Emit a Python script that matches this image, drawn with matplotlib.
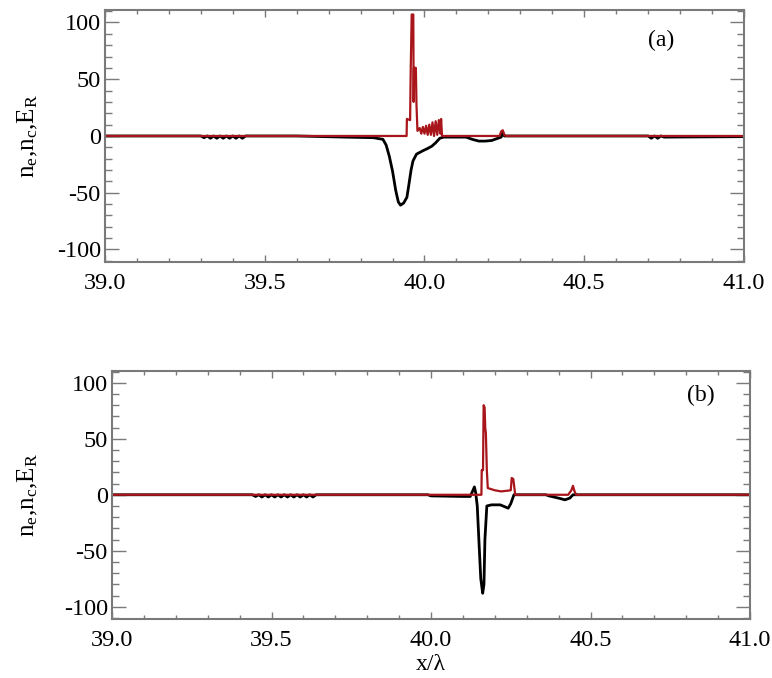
import numpy as np
import matplotlib.pyplot as plt
from matplotlib.ticker import MultipleLocator, FormatStrFormatter

plt.rcParams['font.family'] = ['Liberation Serif', 'DejaVu Serif']
plt.rcParams['mathtext.fontset'] = 'custom'
plt.rcParams['mathtext.rm'] = 'Liberation Serif'
plt.rcParams['mathtext.it'] = 'Liberation Serif:italic'
plt.rcParams['axes.unicode_minus'] = False

# panel (a): black curve (n_e) and red curve (E_R)
black_a_x = [39.0, 39.30, 39.31, 39.32, 39.33, 39.34, 39.35, 39.36, 39.37, 39.38, 39.39, 39.40,
             39.41, 39.42, 39.43, 39.44,
             39.60, 39.75, 39.84, 39.87, 39.88, 39.89, 39.90, 39.91, 39.918, 39.925, 39.935,
             39.945, 39.95, 39.958, 39.964, 39.975, 39.995, 40.01, 40.023, 40.035, 40.048,
             40.06, 40.13, 40.15, 40.17, 40.19, 40.21, 40.23, 40.24, 40.245, 40.25,
             40.70, 40.71, 40.72, 40.73, 40.74, 40.75, 41.0]
black_a_y = [0, 0, -1.5, 0, -2, 0, -2, 0, -2, 0, -2, 0,
             -2, 0, -2, 0,
             0, -1, -1.5, -3, -8, -18, -31, -48, -58, -61, -59,
             -54, -45, -30, -22, -16, -13, -11, -9, -6, -2,
             -1, -1, -3, -4.5, -4.5, -4, -2, -1, 3, 0,
             0, -2, 0, -2, 0, -1, -0.6]
red_a_x = [39.0, 39.944, 39.945, 39.955, 39.957, 39.960, 39.965, 39.966, 39.967, 39.973, 39.975,
           39.978, 39.985, 39.99, 39.995, 40.00, 40.005, 40.01, 40.015, 40.02, 40.025, 40.03,
           40.035, 40.04, 40.045, 40.05, 40.052, 40.055, 40.235, 40.24, 40.245, 40.25, 40.255, 41.0]
red_a_y = [0, 0, 15, 14, 60, 107, 107, 30, 60, 60, 27,
           4.5, 7, 2, 8, 2, 9, 1, 10, 1, 12, 0,
           13, 1, 14, 2, 15, 0, 0, 4, 5, 1, 0, 0]

# panel (b)
black_b_x = [39.0, 39.44, 39.45, 39.46, 39.47, 39.48, 39.49, 39.50, 39.51, 39.52, 39.53, 39.54,
             39.55, 39.56, 39.57, 39.58, 39.59, 39.60, 39.61, 39.62, 39.63, 39.64,
             39.99, 40.0, 40.10, 40.123, 40.13, 40.136, 40.14, 40.145, 40.15, 40.156, 40.162,
             40.166, 40.169, 40.175, 40.19, 40.217, 40.242, 40.25, 40.26,
             40.36, 40.37, 40.40, 40.42, 40.435, 40.445, 41.0]
black_b_y = [0, 0, -1.5, 0, -2, 0, -2, 0, -2, 0, -2, 0,
             -2, 0, -2, 0, -2, 0, -2, 0, -2, 0,
             0, -1, -1.5, -1.5, 3, 7, 2, -10, -40, -75, -88,
             -80, -40, -10, -9, -9, -12, -8, 0,
             0, -1, -3, -4.5, -3, 0, 0]
red_b_x = [39.0, 40.158, 40.159, 40.163, 40.165, 40.168, 40.170, 40.172, 40.175, 40.178,
           40.20, 40.22, 40.25, 40.253, 40.258, 40.264, 40.43, 40.44, 40.445, 40.45, 40.455, 41.0]
red_b_y = [0, 0, 22, 22, 80, 78, 60, 55, 22, 6,
           4, 3, 4, 15, 14, 0, 0, 4, 8, 3, 0, 0]

red = '#a8151a'
grey = '#7a7a7a'

fig = plt.figure(figsize=(7.72, 6.78), dpi=100)
ax1 = fig.add_axes([0.136, 0.6136, 0.8277, 0.3717])
ax2 = fig.add_axes([0.1451, 0.0870, 0.8264, 0.3665])

panels = [(ax1, black_a_x, black_a_y, red_a_x, red_a_y, '(a)', 0.87, 0.88, -0.102),
          (ax2, black_b_x, black_b_y, red_b_x, red_b_y, '(b)', 0.923, 0.90, -0.113)]

for ax, bx, by, rx, ry, tag, tx, ty, lx in panels:
    ax.plot(bx, by, color='black', lw=2.0)
    ax.plot(rx, ry, color=red, lw=1.6)
    ax.set_xlim(39.0, 41.0)
    ax.set_ylim(-111, 111)
    ax.xaxis.set_major_locator(MultipleLocator(0.5))
    ax.xaxis.set_minor_locator(MultipleLocator(0.1))
    ax.xaxis.set_major_formatter(FormatStrFormatter('%.1f'))
    ax.yaxis.set_major_locator(MultipleLocator(50))
    ax.yaxis.set_minor_locator(MultipleLocator(10))
    ax.yaxis.set_major_formatter(FormatStrFormatter('%d'))
    ax.tick_params(axis='both', which='both', direction='in', top=True, right=True,
                   color=grey, labelsize=17.5, width=1.0)
    ax.tick_params(axis='x', which='major', length=5, pad=8)
    ax.tick_params(axis='x', which='minor', length=3)
    ax.tick_params(axis='y', which='major', length=10, pad=3)
    ax.tick_params(axis='y', which='minor', length=5)
    for s in ax.spines.values():
        s.set_color(grey)
        s.set_linewidth(1.5)
    ax.set_ylabel(r'n$_\mathregular{e}$,n$_\mathregular{c}$,E$_\mathregular{R}$', fontsize=18)
    ax.yaxis.set_label_coords(lx, 0.5)
    ax.text(tx, ty, tag, transform=ax.transAxes, fontsize=17, ha='center', va='center')

ax2.set_xlabel('x/λ', fontsize=17, labelpad=2)

fig.savefig('out.png', dpi=100)
